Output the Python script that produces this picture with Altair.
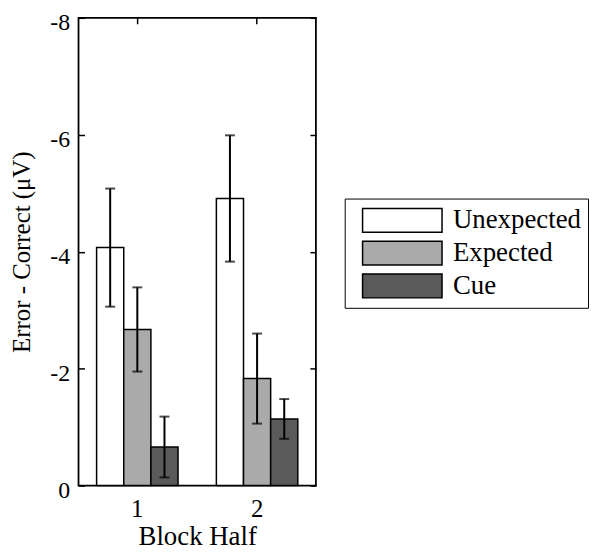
import altair as alt
import pandas as pd

# ---- data ----
halves = ["1", "1", "1", "2", "2", "2"]
conditions = ["Unexpected", "Expected", "Cue", "Unexpected", "Expected", "Cue"]
means = [-4.07, -2.67, -0.66, -4.91, -1.83, -1.14]
errors = [1.01, 0.72, 0.52, 1.08, 0.77, 0.34]
cond_order = ["Unexpected", "Expected", "Cue"]
cond_colors = ["#ffffff", "#aaaaaa", "#5a5a5a"]
y_ticks = [0, -2, -4, -6, -8]

df = pd.DataFrame({"half": halves, "cond": conditions, "mean": means, "err": errors})

FONT = "Liberation Serif"
xscale = alt.Scale(paddingInner=0.32, paddingOuter=0.151)
offscale = alt.Scale(paddingInner=0, paddingOuter=0)
yscale = alt.Scale(domain=[-8, 0], reverse=True, nice=False)
label_expr = "datum.value == 0 ? '0' : '-' + abs(datum.value)"

base = alt.Chart(df).transform_calculate(
    lo="datum.mean + datum.err", hi="datum.mean - datum.err"
)

bars = base.mark_bar(stroke="black", strokeWidth=1.5).encode(
    x=alt.X("half:N", scale=xscale,
            axis=alt.Axis(title="Block Half", orient="bottom", ticks=False, domain=False,
                          labelAngle=0, labelFont=FONT, labelFontSize=25, labelColor="black",
                          labelPadding=11, titleFont=FONT, titleFontSize=27,
                          titleFontWeight="normal", titleColor="black", titlePadding=2)),
    xOffset=alt.XOffset("cond:N", sort=cond_order, scale=offscale),
    y=alt.Y("mean:Q", scale=yscale,
            axis=alt.Axis(values=y_ticks, labelExpr=label_expr, title="Error - Correct (μV)",
                          ticks=False, domain=False, grid=False, labelFont=FONT,
                          labelFontSize=24, labelColor="black", labelPadding=9, labelOffset=5,
                          titleFont=FONT, titleFontSize=25, titleFontWeight="normal",
                          titleColor="black", titlePadding=15)),
    color=alt.Color("cond:N", sort=cond_order,
                    scale=alt.Scale(domain=cond_order, range=cond_colors),
                    legend=alt.Legend(title=None, orient="none", legendX=268, legendY=182,
                                      symbolType="M-2.857,-0.857L2.857,-0.857L2.857,0.857L-2.857,0.857Z",
                                      symbolSize=784, symbolOffset=36,
                                      symbolStrokeColor="black",
                                      symbolStrokeWidth=1.5, symbolOpacity=1,
                                      labelFont=FONT, labelFontSize=27, labelColor="black",
                                      labelOffset=36, strokeColor="black", fillColor="white",
                                      padding=7, rowPadding=3)),
)

tick_axis_x_top = alt.Axis(orient="top", labels=False, ticks=True, tickSize=6, offset=-6,
                           domain=False, title=None, tickColor="black", tickWidth=1.5)
tick_axis_y_right = alt.Axis(orient="right", values=y_ticks, labels=False, ticks=True,
                             tickSize=6, offset=-6, domain=False, title=None, grid=False,
                             tickColor="black", tickWidth=1.5)
tick_axis_x_bottom = alt.Axis(orient="bottom", labels=False, ticks=True, tickSize=6, offset=-6,
                              domain=False, title=None, tickColor="black", tickWidth=1.5)
tick_axis_y_left = alt.Axis(orient="left", values=y_ticks, labels=False, ticks=True,
                            tickSize=6, offset=-6, domain=False, title=None, grid=False,
                            tickColor="black", tickWidth=1.5)

rules = base.mark_rule(color="black", strokeWidth=2).encode(
    x=alt.X("half:N", scale=xscale, axis=tick_axis_x_top),
    xOffset=alt.XOffset("cond:N", sort=cond_order, scale=offscale),
    y=alt.Y("lo:Q", scale=yscale, axis=tick_axis_y_right),
    y2="hi:Q",
)

caps = base.transform_fold(["lo", "hi"], as_=["end", "val"]).mark_tick(
    color="black", size=10, thickness=2, orient="horizontal"
).encode(
    x=alt.X("half:N", scale=xscale, axis=tick_axis_x_bottom),
    xOffset=alt.XOffset("cond:N", sort=cond_order, scale=offscale),
    y=alt.Y("val:Q", scale=yscale, axis=tick_axis_y_left),
)

chart = alt.layer(bars, rules, caps).resolve_axis(
    x="independent", y="independent"
).properties(
    width=239, height=471,
    autosize=alt.AutoSizeParams(type="none"),
    padding={"left": 71, "top": 8, "right": 278, "bottom": 66},
).configure_view(stroke="black", strokeWidth=1.8).configure_axis(grid=False)

chart.save("out.html", embed_options={"renderer": "svg", "actions": False})
